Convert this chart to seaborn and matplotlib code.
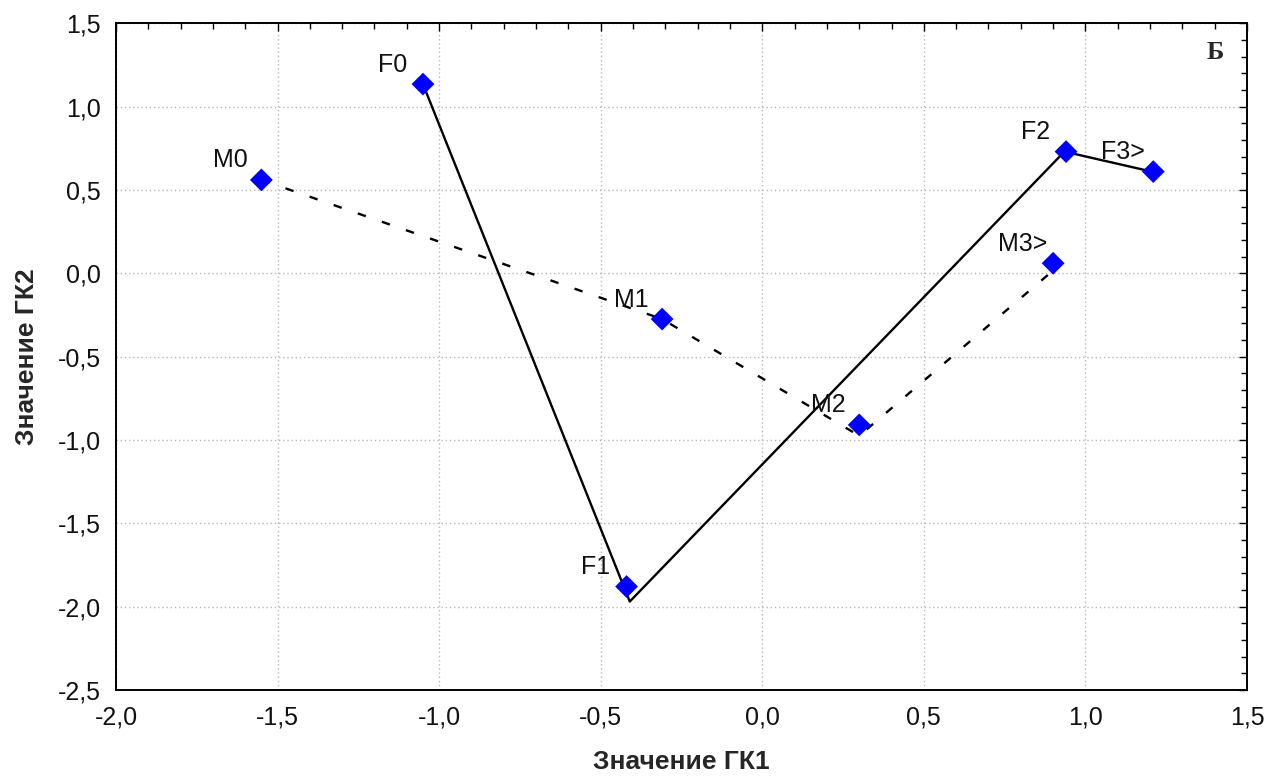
import matplotlib
matplotlib.use("Agg")
import matplotlib.pyplot as plt
from matplotlib.ticker import MultipleLocator, FuncFormatter
import pandas as pd
import seaborn as sns

# Group centroids on the first two canonical roots
labels = ["F0", "F1", "F2", "F3>", "M0", "M1", "M2", "M3>"]
gk1 = [-1.05, -0.42, 0.94, 1.21, -1.55, -0.31, 0.30, 0.90]
gk2 = [1.135, -1.88, 0.73, 0.61, 0.56, -0.275, -0.91, 0.06]

# Trajectories connecting the age groups (females solid, males dashed)
f_path_gk1 = [-1.05, -0.41, 0.935, 1.205]
f_path_gk2 = [1.135, -1.97, 0.73, 0.61]
m_path_gk1 = [-1.55, -0.31, 0.30, 0.89]
m_path_gk2 = [0.56, -0.275, -0.975, 0.0]

x_label = "Значение ГК1"
y_label = "Значение ГК2"
panel_letter = "Б"

sns.set_style("white")
plt.rcParams["font.family"] = ["Liberation Sans", "DejaVu Sans"]

points = pd.DataFrame({"gk1": gk1, "gk2": gk2, "label": labels})

fig = plt.figure(figsize=(12.66, 7.76), dpi=100)
ax = fig.add_axes([0.0916, 0.111, 0.8934, 0.859])

sns.lineplot(x=f_path_gk1, y=f_path_gk2, sort=False, estimator=None,
             color="black", linewidth=1.7, ax=ax, zorder=2)
sns.lineplot(x=m_path_gk1, y=m_path_gk2, sort=False, estimator=None,
             color="black", linewidth=1.7, linestyle=(0, (3.6, 7.2)),
             ax=ax, zorder=2)
sns.scatterplot(data=points, x="gk1", y="gk2", marker="D", s=135,
                color="#0000ff", edgecolor="none", ax=ax, zorder=3)

for lab, x, y in zip(points["label"], points["gk1"], points["gk2"]):
    ax.annotate(lab, (x, y), xytext=(-22, 14), textcoords="offset points",
                ha="center", va="center", fontsize=18, color="#111111",
                zorder=4)

ax.set_xlim(-2.0, 1.5)
ax.set_ylim(-2.5, 1.5)
ax.xaxis.set_major_locator(MultipleLocator(0.5))
ax.xaxis.set_minor_locator(MultipleLocator(0.1))
ax.yaxis.set_major_locator(MultipleLocator(0.5))
ax.yaxis.set_minor_locator(MultipleLocator(0.1))
comma = FuncFormatter(lambda v, _: f"{v:.1f}".replace(".", ","))
ax.xaxis.set_major_formatter(comma)
ax.yaxis.set_major_formatter(comma)

ax.tick_params(which="both", direction="in", top=True, right=True,
               color="black", width=1.0)
ax.tick_params(which="major", length=6, labelsize=18, pad=11,
               labelcolor="#111111")
ax.tick_params(which="minor", length=4)

ax.grid(True, which="major", linestyle=(0, (1, 2)), color="#b8b8b8",
        linewidth=1.0)
for spine in ax.spines.values():
    spine.set_visible(True)
    spine.set_color("black")
    spine.set_linewidth(1.4)

ax.set_xlabel(x_label, fontsize=19, fontweight="bold")
ax.set_ylabel(y_label, fontsize=19, fontweight="bold")
ax.xaxis.set_label_coords(0.5, -0.09)
ax.yaxis.set_label_coords(-0.068, 0.5)

ax.text(0.9717, 0.9565, panel_letter, transform=ax.transAxes,
        ha="center", va="center", fontsize=19, fontweight="bold",
        family=["Liberation Serif", "DejaVu Serif"])

fig.savefig("out.png", dpi=100, facecolor="white")
